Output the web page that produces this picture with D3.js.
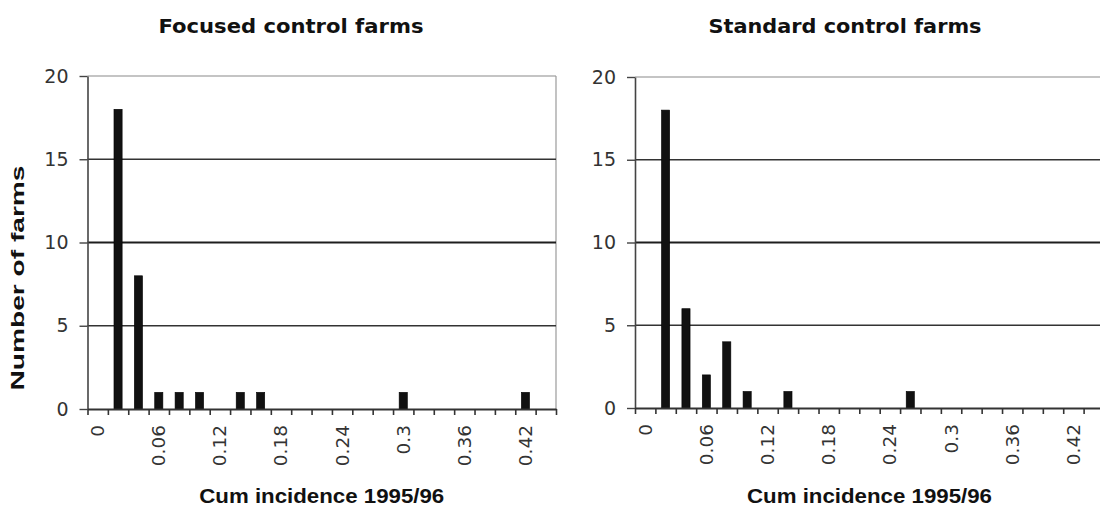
<!DOCTYPE html>
<html>
<head>
<meta charset="utf-8">
<script src="https://cdn.jsdelivr.net/npm/d3@7"></script>
<style>
  html, body { margin: 0; padding: 0; background: #ffffff; }
  svg { display: block; }
</style>
</head>
<body>
<svg id="chart" width="1100" height="508"></svg>
<script>
// ---- data ----
const categories = ["0","0.02","0.04","0.06","0.08","0.1","0.12","0.14","0.16","0.18","0.2","0.22",
                    "0.24","0.26","0.28","0.3","0.32","0.34","0.36","0.38","0.4","0.42","0.44"];
const tickLabels = ["0","0.06","0.12","0.18","0.24","0.3","0.36","0.42"];
const focusedCounts  = [0,18,8,1,1,1,0,1,1,0,0,0,0,0,0,1,0,0,0,0,0,1,0];
const standardCounts = [0,18,6,2,4,1,0,1,0,0,0,0,0,1,0,0,0,0,0,0,0,0,0];
const yTicks = [0,5,10,15,20];
const panelTitles = ["Focused control farms","Standard control farms"];
const xTitle = "Cum incidence 1995/96";
const yTitle = "Number of farms";

const svg = d3.select("#chart");

const panels = [
  {counts: focusedCounts,  title: panelTitles[0], x0: 87.5, x1: 556, y0: 76, y1: 409, titleX: 291, titleW: 265, showYTitle: true},
  {counts: standardCounts, title: panelTitles[1], x0: 635,  x1: 1104, y0: 77, y1: 408, titleX: 845, titleW: 273, showYTitle: false}
];

panels.forEach(p => {
  const g = svg.append("g");
  const band = d3.scaleBand().domain(categories).range([p.x0, p.x1]).padding(0);
  const idx = d3.scaleLinear().domain([0, categories.length]).range([p.x0, p.x1]);
  const y = d3.scaleLinear().domain([0, 20]).range([p.y1, p.y0]);

  // plot border (top & right)
  g.append("line").attr("x1", p.x0).attr("x2", p.x1).attr("y1", y(20)).attr("y2", y(20))
    .attr("stroke", "#8a8a8a").attr("stroke-width", 1.2);
  g.append("line").attr("x1", p.x1).attr("x2", p.x1).attr("y1", y(20)).attr("y2", y(0))
    .attr("stroke", "#9a9a9a").attr("stroke-width", 1.2);

  // gridlines
  g.selectAll(".grid").data(yTicks.filter(d => d > 0 && d < 20)).enter().append("line")
    .attr("x1", p.x0).attr("x2", p.x1)
    .attr("y1", d => y(d)).attr("y2", d => y(d))
    .attr("stroke", d => d === 10 ? "#1e1e1e" : "#333")
    .attr("stroke-width", d => d === 10 ? 2.2 : 1.7);

  // bars
  const bw = band.bandwidth() * 0.4;
  g.selectAll(".bar").data(p.counts.map((v, i) => ({c: categories[i], v})).filter(d => d.v > 0))
    .enter().append("rect")
    .attr("x", d => band(d.c) + band.bandwidth() / 2 - bw / 2)
    .attr("width", bw)
    .attr("y", d => y(d.v))
    .attr("height", d => y(0) - y(d.v))
    .attr("fill", "#111")
    .attr("stroke", "#000").attr("stroke-width", 0.6);

  // y axis
  const ya = g.append("g").attr("transform", `translate(${p.x0},0)`)
    .call(d3.axisLeft(y).tickValues(yTicks).tickSize(8).tickPadding(11).tickSizeOuter(0));
  ya.select(".domain").attr("stroke", "#444").attr("stroke-width", 1.6);
  ya.selectAll(".tick line").attr("stroke", "#444").attr("stroke-width", 1.4);
  ya.selectAll(".tick text").attr("font-family", "DejaVu Sans").attr("font-size", 19)
    .attr("fill", "#333");

  // x axis tick marks at category boundaries
  const xa = g.append("g").attr("transform", `translate(0,${p.y1})`)
    .call(d3.axisBottom(idx).tickValues(d3.range(0, categories.length + 1)).tickSize(6)
      .tickFormat("").tickSizeOuter(0));
  xa.select(".domain").attr("stroke", "#333").attr("stroke-width", 2);
  xa.selectAll(".tick line").attr("stroke", "#333").attr("stroke-width", 1.6);

  // x labels (rotated) at category centers
  const xl = g.append("g").attr("transform", `translate(0,${p.y1})`)
    .call(d3.axisBottom(band).tickValues(tickLabels).tickSize(0));
  xl.select(".domain").remove();
  xl.selectAll(".tick text")
    .attr("transform", "rotate(-90)")
    .attr("x", -16).attr("y", 0).attr("dy", "0.35em")
    .attr("text-anchor", "end")
    .attr("font-family", "DejaVu Sans").attr("font-size", 18.5).attr("fill", "#333");

  // panel title
  g.append("text").attr("x", p.titleX).attr("y", 33).attr("text-anchor", "middle")
    .attr("font-family", "DejaVu Sans").attr("font-weight", "bold").attr("font-size", 20)
    .attr("textLength", p.titleW).attr("lengthAdjust", "spacingAndGlyphs")
    .attr("fill", "#111").text(p.title);

  // x title
  g.append("text").attr("x", (p.x0 + p.x1) / 2).attr("y", 503).attr("text-anchor", "middle")
    .attr("font-family", "Liberation Sans").attr("font-weight", "bold").attr("font-size", 21)
    .attr("textLength", 245).attr("lengthAdjust", "spacingAndGlyphs")
    .attr("fill", "#111").text(xTitle);

  if (p.showYTitle) {
    g.append("text").attr("transform", "translate(24,278) rotate(-90)")
      .attr("text-anchor", "middle")
      .attr("font-family", "Liberation Sans").attr("font-weight", "bold").attr("font-size", 18)
      .attr("textLength", 225).attr("lengthAdjust", "spacingAndGlyphs")
      .attr("fill", "#111").text(yTitle);
  }
});
</script>
</body>
</html>
